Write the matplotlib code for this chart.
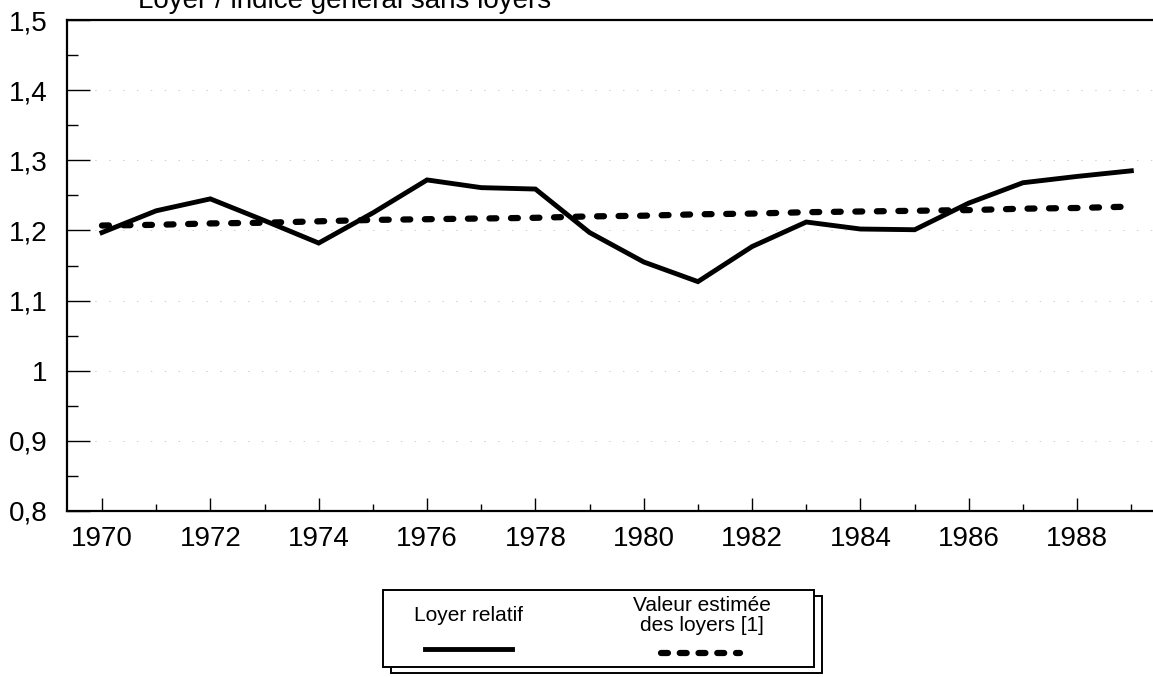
import numpy as np
import matplotlib
matplotlib.use("Agg")
import matplotlib.pyplot as plt
from matplotlib.lines import Line2D
from matplotlib.patches import Rectangle
from matplotlib.ticker import MultipleLocator, FuncFormatter

plt.rcParams['font.family'] = ['Liberation Sans', 'DejaVu Sans']
plt.rcParams['lines.scale_dashes'] = False

years = np.arange(1970, 1990)
loyer_relatif = [1.197, 1.228, 1.245, 1.214, 1.182, 1.225, 1.272, 1.261, 1.259, 1.197,
                 1.155, 1.127, 1.177, 1.212, 1.202, 1.201, 1.239, 1.268, 1.277, 1.285]
valeur_estimee = [1.207, 1.208, 1.210, 1.211, 1.213, 1.215, 1.216, 1.217, 1.218, 1.220,
                  1.221, 1.223, 1.224, 1.226, 1.227, 1.228, 1.229, 1.231, 1.232, 1.234]

W, H = 1153.0, 677.0
fig = plt.figure(figsize=(11.53, 6.77), dpi=100)
ax = fig.add_axes([67 / W, 1 - 511 / H, 1 - 67 / W, 491 / H])

ax.plot(years, loyer_relatif, color='black', lw=3.5, solid_joinstyle='miter')
ax.plot(years, valeur_estimee, color='black', lw=4.5,
        dashes=(5, 10.5), dash_capstyle='round')

ax.set_xlim(1969.354, 1989.40)
ax.set_ylim(0.8, 1.5)

# faint dotted grid as in the scanned original
ax.grid(axis='y', which='major', color='#c4c4c4', lw=0.6, linestyle=(0, (1, 9)))

ax.yaxis.set_major_locator(MultipleLocator(0.1))
ax.yaxis.set_minor_locator(MultipleLocator(0.05))
ax.xaxis.set_major_locator(MultipleLocator(2))
ax.xaxis.set_minor_locator(MultipleLocator(1))

def fr(v, pos):
    s = '%.1f' % v
    if s.endswith('.0'):
        s = s[:-2]
    return s.replace('.', ',')

ax.yaxis.set_major_formatter(FuncFormatter(fr))
ax.xaxis.set_major_formatter(FuncFormatter(lambda v, p: '%d' % v))

ax.tick_params(axis='y', which='major', direction='in', length=16.5, width=1.0,
               pad=14, labelsize=20)
ax.tick_params(axis='y', which='minor', direction='in', length=8, width=1.0)
ax.tick_params(axis='x', which='major', direction='in', length=9.5, width=1.0,
               pad=11, labelsize=20)
ax.tick_params(axis='x', which='minor', direction='in', length=5, width=1.0)

for side in ['left', 'bottom', 'top']:
    ax.spines[side].set_linewidth(1.6)
ax.spines['right'].set_visible(False)

# title clipped at the top edge of the scan
fig.text(138 / W, 1 - 8 / H, 'Loyer / indice général sans loyers',
         fontsize=20, va='baseline', ha='left')

# legend box with shadow
shadow = Rectangle((391 / W, 1 - 673 / H), 431 / W, 77 / H, transform=fig.transFigure,
                   facecolor='white', edgecolor='black', lw=1.4, clip_on=False)
box = Rectangle((383 / W, 1 - 667 / H), 431 / W, 77 / H, transform=fig.transFigure,
                facecolor='white', edgecolor='black', lw=1.4, clip_on=False)
fig.add_artist(shadow)
fig.add_artist(box)

fig.text(468 / W, 1 - 621 / H, 'Loyer relatif', fontsize=15, ha='center', va='baseline')
fig.text(702 / W, 1 - 611 / H, 'Valeur estimée', fontsize=15, ha='center', va='baseline')
fig.text(702 / W, 1 - 631 / H, 'des loyers [1]', fontsize=15, ha='center', va='baseline')
fig.add_artist(Line2D([425 / W, 512 / W], [1 - 649 / H, 1 - 649 / H],
                      transform=fig.transFigure, color='black', lw=3.5))
fig.add_artist(Line2D([661 / W, 740 / W], [1 - 653 / H, 1 - 653 / H],
                      transform=fig.transFigure, color='black', lw=4.5,
                      dashes=(5, 8.5), dash_capstyle='round'))

fig.savefig('out.png', dpi=100)
